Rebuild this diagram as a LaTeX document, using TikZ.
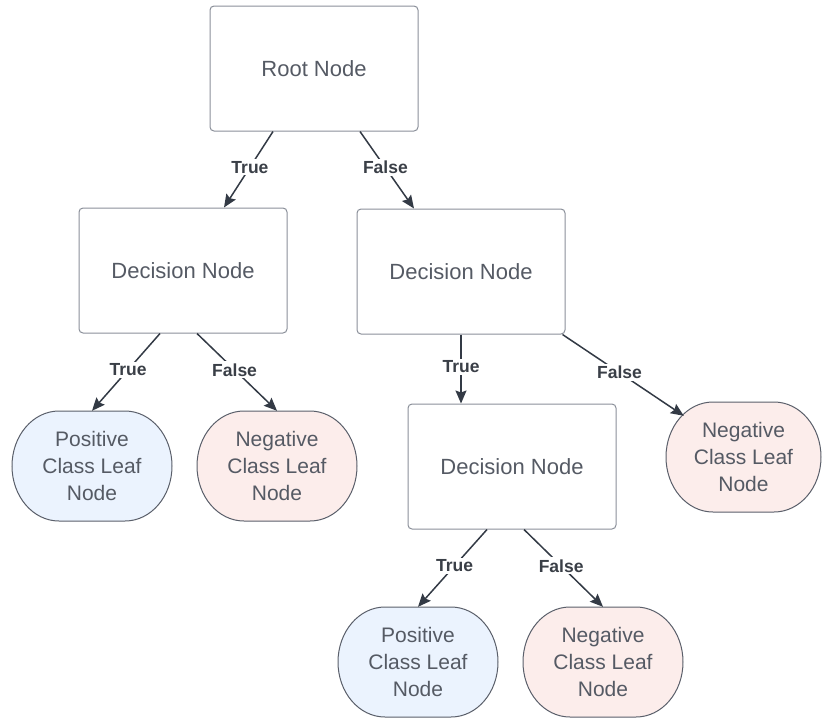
\documentclass[tikz,border=0pt]{standalone}
\usepackage{fontspec}
\setmainfont{Liberation Sans}
\usetikzlibrary{arrows.meta}
\definecolor{txt}{HTML}{555A64}
\definecolor{boxline}{HTML}{8A8F99}
\definecolor{leafline}{HTML}{5A5F6A}
\definecolor{arrc}{HTML}{333A45}
\definecolor{lblc}{HTML}{3A3F47}
\definecolor{posfill}{HTML}{EBF3FE}
\definecolor{negfill}{HTML}{FCEDEB}
\tikzset{
  dbox/.style={draw=boxline, line width=1pt, rounded corners=4pt, minimum width=208pt, minimum height=125pt, text=txt, font=\fontsize{22}{27}\selectfont, align=center, inner sep=0pt},
  leaf/.style={minimum width=160pt, minimum height=110pt, text=txt, font=\fontsize{21}{27}\selectfont, align=center, inner sep=0pt},
  leafshape/.style={draw=leafline, line width=1pt},
  arr/.style={draw=arrc, line width=1.5pt, -{Stealth[length=13pt,width=11pt,inset=2pt]}},
  lbl/.style={fill=white, text=lblc, font=\fontsize{17.5}{19}\selectfont\bfseries, inner sep=2pt, pos=0.47}
}
% leaf outline: half width #1, centred at origin, half height 55, corner x radius 47
\newcommand\leafoutline[1]{(-#1,0) .. controls (-#1,-30.4) and ({-#1+21},-55) .. ({-#1+47},-55) -- ({#1-47},-55) .. controls ({#1-21},-55) and (#1,-30.4) .. (#1,0) .. controls (#1,30.4) and ({#1-21},55) .. ({#1-47},55) -- ({-#1+47},55) .. controls ({-#1+21},55) and (-#1,30.4) .. (-#1,0) -- cycle}
\begin{document}
\begin{tikzpicture}[x=1pt,y=-1pt]
\useasboundingbox (0,0) rectangle (822,721);
\node[dbox] (root) at (314,68.5) {Root Node};
\node[dbox] (dl) at (183,270.5) {Decision Node};
\node[dbox] (dr) at (461,271.5) {Decision Node};
\node[dbox] (dm) at (512,466.5) {Decision Node};

\draw[leafshape, fill=posfill, shift={(92,466)}] \leafoutline{80};
\node[leaf] (l1) at (92,466) {Positive\\Class Leaf\\Node};
\draw[leafshape, fill=negfill, shift={(277,466)}] \leafoutline{80};
\node[leaf] (l2) at (277,466) {Negative\\Class Leaf\\Node};
\draw[leafshape, fill=negfill, shift={(743.5,457)}] \leafoutline{77.5};
\node[leaf, minimum width=155pt] (l3) at (743.5,457) {Negative\\Class Leaf\\Node};
\draw[leafshape, fill=posfill, shift={(418,662)}] \leafoutline{80};
\node[leaf] (l4) at (418,662) {Positive\\Class Leaf\\Node};
\draw[leafshape, fill=negfill, shift={(603,662)}] \leafoutline{80};
\node[leaf] (l5) at (603,662) {Negative\\Class Leaf\\Node};

\draw[arr] ([xshift=-41pt]root.south) -- node[lbl]{True} ([xshift=41pt]dl.north);
\draw[arr] ([xshift=46pt]root.south) -- node[lbl]{False} ([xshift=-47pt]dr.north);
\draw[arr] ([xshift=-23pt]dl.south) -- node[lbl]{True} (l1.north);
\draw[arr] ([xshift=14pt]dl.south) -- node[lbl]{False} (l2.north);
\draw[arr] (dr.south) -- node[lbl]{True} ([xshift=-51pt]dm.north);
\draw[arr] ([xshift=-3pt]dr.south east) -- node[lbl]{False} ([xshift=18pt,yshift=-14pt]l3.north west);
\draw[arr] ([xshift=-25pt]dm.south) -- node[lbl]{True} (l4.north);
\draw[arr] ([xshift=12pt]dm.south) -- node[lbl]{False} (l5.north);
\end{tikzpicture}
\end{document}
